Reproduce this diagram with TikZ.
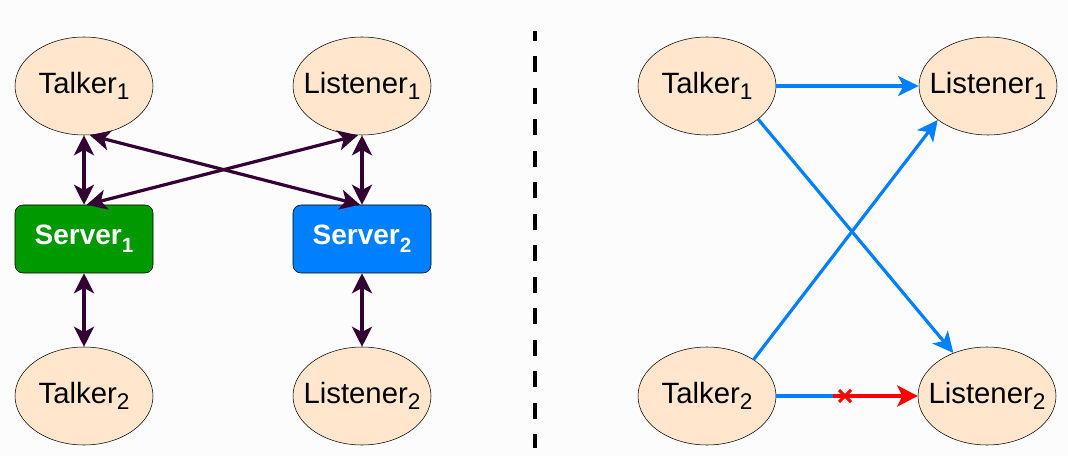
\documentclass[tikz,border=0pt]{standalone}
\usepackage{fontspec}
\setmainfont{Liberation Sans}
\usepackage{tikz}
\usetikzlibrary{positioning,shapes.geometric,arrows.meta}

\definecolor{peach}{RGB}{255,230,204}
\definecolor{darkplum}{RGB}{51,0,51}
\definecolor{srvgreen}{RGB}{0,153,0}
\definecolor{srvblue}{RGB}{0,127,255}
\definecolor{paper}{RGB}{252,252,252}

\newcommand{\hostidx}[1]{\raisebox{-5pt}{\fontsize{17}{17}\selectfont #1}}
\newcommand{\servidx}[1]{\raisebox{-6pt}{\fontsize{15.5}{16}\selectfont\bfseries #1}}

\begin{document}
\begin{tikzpicture}[x=0.75pt,y=0.75pt,yscale=-1,xscale=1,
    host/.style={ellipse,draw=black,fill=peach,minimum width=103.5pt,minimum height=73.5pt,inner sep=0pt,font=\fontsize{22}{26}\selectfont},
    server/.style={rectangle,rounded corners=6pt,draw=black,minimum width=103.5pt,minimum height=51pt,inner sep=0pt,text=white,font=\fontsize{21}{25}\selectfont\bfseries},
    link/.style={darkplum,line width=2.4pt,{Stealth[length=15pt,width=15pt,inset=4pt]}-{Stealth[length=15pt,width=15pt,inset=4pt]}},
    flow/.style={srvblue,line width=2.4pt,-{Stealth[length=15.5pt,width=15pt,inset=4pt]}}]
        \useasboundingbox (0,0) rectangle (1068,456);
        \fill[paper] (0,0) rectangle (1068,456);
        
        % Left side
        \node[host] (talkA) at (84,86) {\makebox[0pt]{Talker\hostidx{1}}};
        \node[host] (listA) at (362,86) {\makebox[0pt]{Listener\hostidx{1}}};
        \node[server,fill=srvgreen] (servA) at (84,239) {Server\servidx{1}};
        \node[server,fill=srvblue] (servB) at (362,239) {Server\servidx{2}};
        \node[host] (talkB) at (84,396) {\makebox[0pt]{Talker\hostidx{2}}};
        \node[host] (listB) at (362,396) {\makebox[0pt]{Listener\hostidx{2}}};
        
        \draw[link] (talkA.south) -- (servA.north);
        \draw[link] (listA.south) -- (servB.north);
        \draw[link] ([xshift=4.5pt]talkA.south) -- ([xshift=-1.5pt]servB.north);
        \draw[link] ([xshift=-3pt]listA.south) -- ([xshift=2pt]servA.north);
        \draw[link] (servA.south) -- (talkB.north);
        \draw[link] (servB.south) -- (listB.north);
        
        % Divider
        \draw[line width=3.3pt,dash pattern=on 12pt off 11.6pt,dash phase=4.5pt] (535,31) -- (535,448);
        
        % Right side
        \node[host] (talkC) at (707,86) {\makebox[0pt]{Talker\hostidx{1}}};
        \node[host] (listC) at (988,86) {\makebox[0pt]{Listener\hostidx{1}}};
        \node[host] (talkD) at (707,396) {\makebox[0pt]{Talker\hostidx{2}}};
        \node[host] (listD) at (987,396) {\makebox[0pt]{Listener\hostidx{2}}};
        
        \draw[flow] (talkC.east) -- (listC.west);
        \draw[flow] (talkC.-33) -- (listD.128);
        \draw[flow] (talkD.38) -- (listC.-146);
        \coordinate (cut) at (833,396);
        \draw[srvblue,line width=2.4pt] (talkD.east) -- (cut);
        \draw[red,line width=2.4pt,-{Stealth[length=15.5pt,width=16pt,inset=4pt]}] (cut) -- (listD.west);
        \draw[red,line width=2.2pt] (839,390) -- (851,402) (839,402) -- (851,390);
        \end{tikzpicture}
\end{document}
